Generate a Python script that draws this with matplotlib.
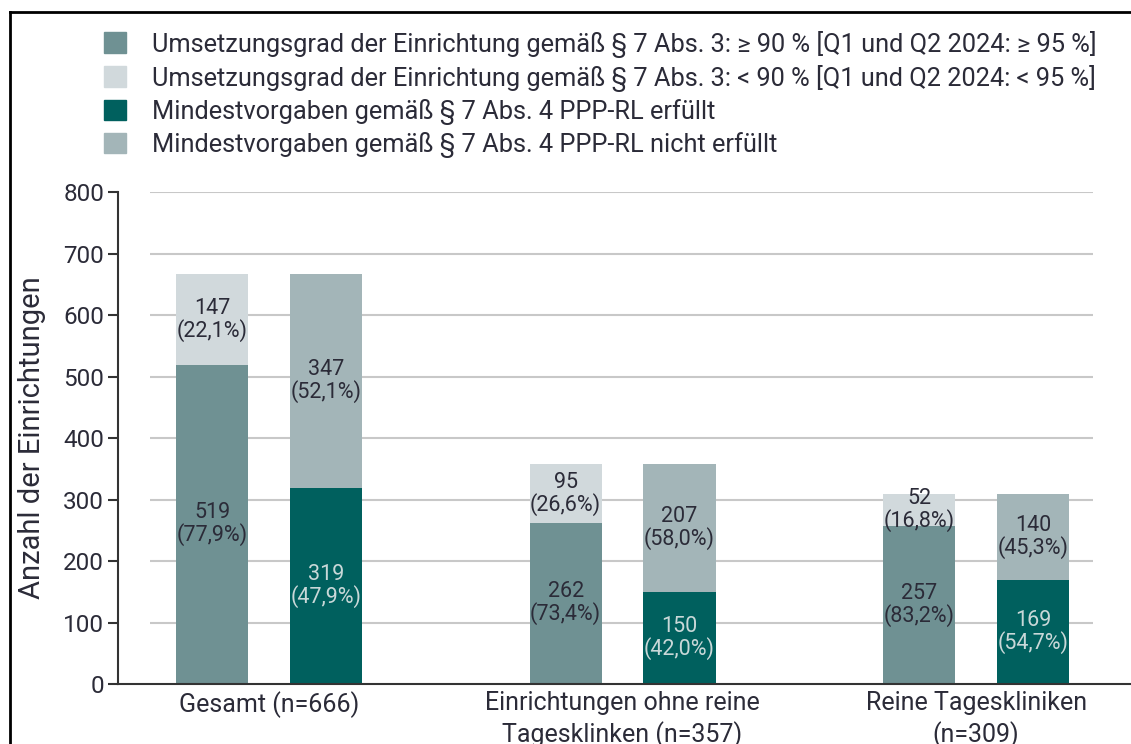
import numpy as np
import matplotlib.pyplot as plt
from matplotlib.lines import Line2D
from matplotlib.patches import Patch

plt.rcParams['font.family'] = ['Roboto', 'DejaVu Sans']

# Data
groups = ['Gesamt (n=666)', 'Einrichtungen ohne reine\nTagesklinken (n=357)', 'Reine Tageskliniken\n(n=309)']
umsetzung_hoch = [519, 262, 257]
umsetzung_niedrig = [147, 95, 52]
mindest_erfuellt = [319, 150, 169]
mindest_nicht = [347, 207, 140]
pct_hoch = ['77,9', '73,4', '83,2']
pct_niedrig = ['22,1', '26,6', '16,8']
pct_erfuellt = ['47,9', '42,0', '54,7']
pct_nicht = ['52,1', '58,0', '45,3']

legend_labels = [
    'Umsetzungsgrad der Einrichtung gemäß § 7 Abs. 3: ≥ 90 % [Q1 und Q2 2024: ≥ 95 %]',
    'Umsetzungsgrad der Einrichtung gemäß § 7 Abs. 3: < 90 % [Q1 und Q2 2024: < 95 %]',
    'Mindestvorgaben gemäß § 7 Abs. 4 PPP-RL erfüllt',
    'Mindestvorgaben gemäß § 7 Abs. 4 PPP-RL nicht erfüllt',
]

c_hoch = '#6f9193'
c_niedrig = '#d1d9dc'
c_erfuellt = '#00605e'
c_nicht = '#a3b5b8'
txt = '#2b2b38'

fig = plt.figure(figsize=(11.31, 7.44), dpi=100)
ax = fig.add_axes([0.1043, 0.0806, 0.8957, 0.6613])

x = np.arange(len(groups))
w = 0.204
off = 0.161

ax.bar(x - off, umsetzung_hoch, w, color=c_hoch, zorder=2)
ax.bar(x - off, umsetzung_niedrig, w, bottom=umsetzung_hoch, color=c_niedrig, zorder=2)
ax.bar(x + off, mindest_erfuellt, w, color=c_erfuellt, zorder=2)
ax.bar(x + off, mindest_nicht, w, bottom=mindest_erfuellt, color=c_nicht, zorder=2)

def label(xpos, bottom, val, pct, color):
    ax.text(xpos, bottom + val / 2, f'{val}\n({pct}%)', ha='center', va='center',
            fontsize=15.5, color=color, linespacing=1.0, zorder=3)

for i in range(len(groups)):
    label(x[i] - off, 0, umsetzung_hoch[i], pct_hoch[i], txt)
    label(x[i] - off, umsetzung_hoch[i], umsetzung_niedrig[i], pct_niedrig[i], txt)
    label(x[i] + off, 0, mindest_erfuellt[i], pct_erfuellt[i], '#c9d8d8')
    label(x[i] + off, mindest_erfuellt[i], mindest_nicht[i], pct_nicht[i], txt)

ax.set_xlim(-0.427, 2.438)
ax.set_ylim(0, 800)
yt = np.arange(0, 801, 100)
ax.set_yticks(yt)
ax.hlines(yt[1:], 0.0316, 0.9625, transform=ax.get_yaxis_transform(),
          color='#c8c8c8', lw=1.5, zorder=1)

# second line of the long category labels runs off the bottom, as in the source
ax.set_xticks(x)
ax.set_xticklabels(groups, fontsize=18, color=txt, linespacing=1.3)
ax.tick_params(axis='x', length=0, pad=5)
ax.tick_params(axis='y', labelsize=17.5, colors='#333333', labelcolor=txt, length=7, width=1.5, pad=3)
ax.set_ylabel('Anzahl der Einrichtungen', fontsize=21, color=txt, labelpad=12)

for s in ['top', 'right']:
    ax.spines[s].set_visible(False)
ax.spines['left'].set_linewidth(1.5)
ax.spines['bottom'].set_linewidth(1.5)
ax.spines['left'].set_color('#333333')
ax.spines['bottom'].set_color('#333333')

handles = [Patch(color=c) for c in [c_hoch, c_niedrig, c_erfuellt, c_nicht]]
fig.legend(handles, legend_labels, loc='upper left', bbox_to_anchor=(0.092, 0.959),
           frameon=False, fontsize=18.3, handlelength=0.88, handleheight=0.88,
           handletextpad=1.0, labelspacing=0.28, borderpad=0, borderaxespad=0,
           labelcolor=txt)

# outer frame (left and top edges visible)
fig.add_artist(Line2D([0.0088, 0.0088], [0, 0.984], color='black', lw=2))
fig.add_artist(Line2D([0.0088, 1], [0.984, 0.984], color='black', lw=2))

fig.savefig('out.png', dpi=100)
